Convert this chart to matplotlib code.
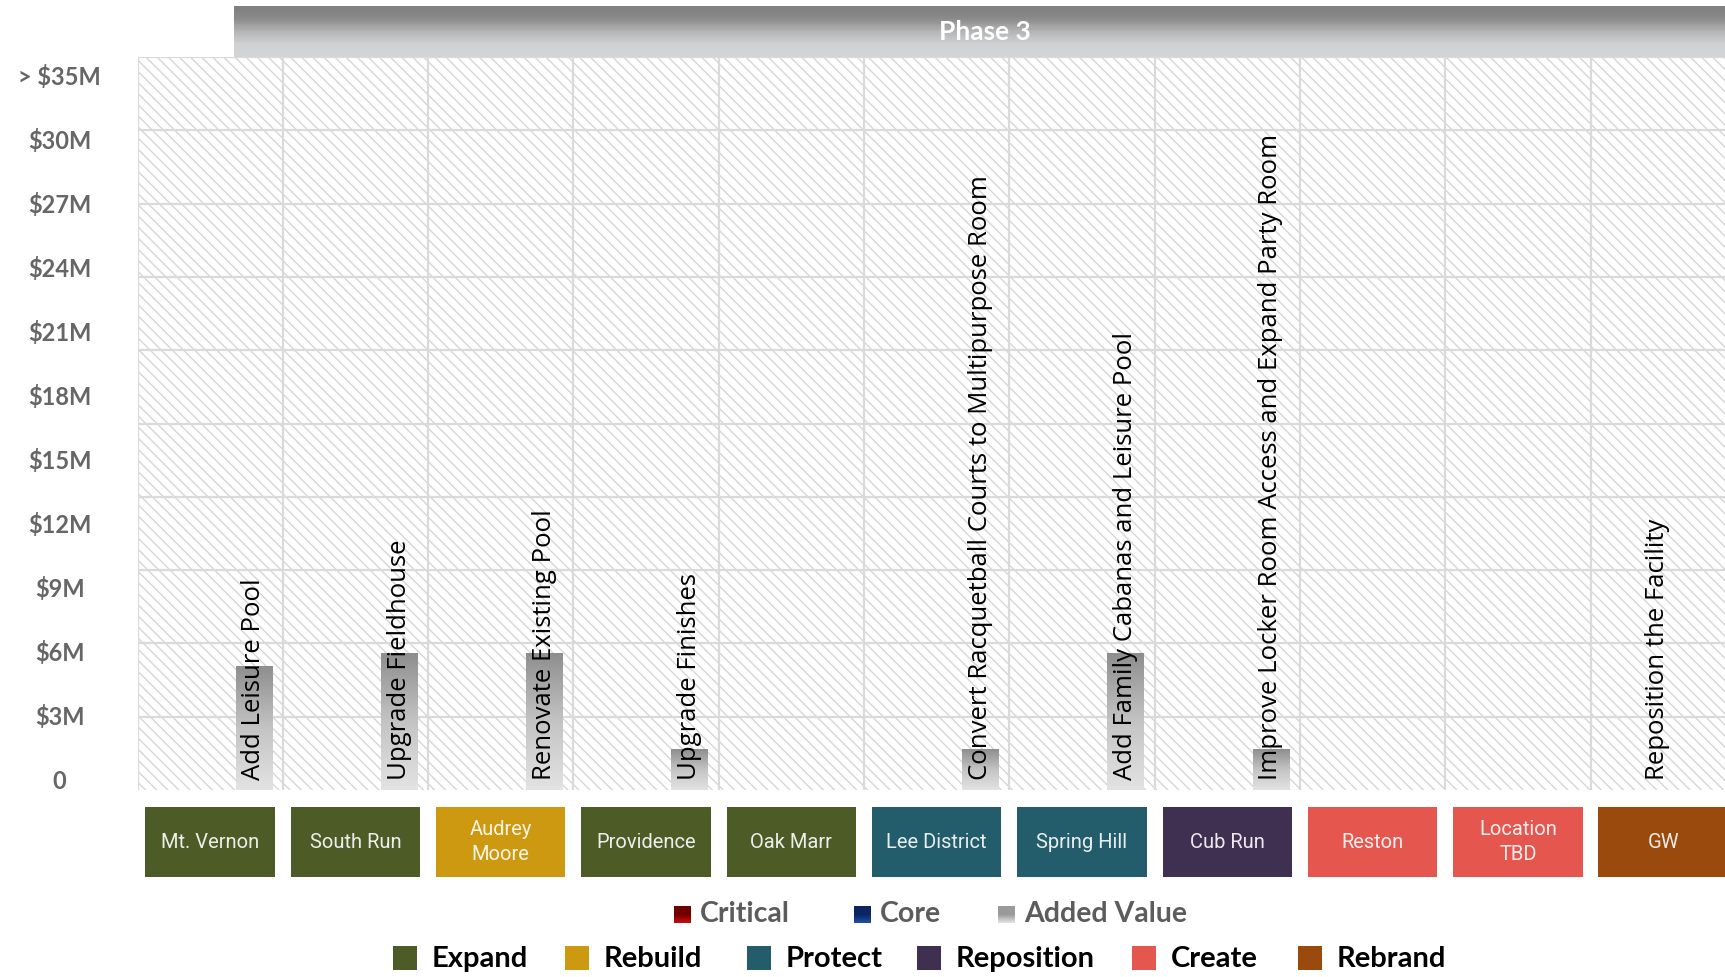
import numpy as np
import matplotlib
matplotlib.use("Agg")
import matplotlib.pyplot as plt
from matplotlib.patches import Rectangle
from matplotlib.transforms import blended_transform_factory
from matplotlib.colors import LinearSegmentedColormap

# ---------------- data ----------------
sites = ["Mt. Vernon", "South Run", "Audrey\nMoore", "Providence", "Oak Marr",
         "Lee District", "Spring Hill", "Cub Run", "Reston", "Location\nTBD", "GW"]
site_strategy = ["Expand", "Expand", "Rebuild", "Expand", "Expand", "Protect",
                 "Protect", "Reposition", "Create", "Create", "Rebrand"]
project_cost_m = [5.8, 6.4, 6.4, 1.9, 0.0, 1.9, 6.4, 1.9, 0.0, 0.0, 0.0]
projects = ["Add Leisure Pool", "Upgrade Fieldhouse", "Renovate Existing Pool",
            "Upgrade Finishes", "", "Convert Racquetball Courts to Multipurpose Room",
            "Add Family Cabanas and Leisure Pool",
            "Improve Locker Room Access and Expand Party Room", "", "",
            "Reposition the Facility"]
ytick_labels = ["0", "$3M", "$6M", "$9M", "$12M", "$15M", "$18M", "$21M",
                "$24M", "$27M", "$30M", "> $35M"]
phase_title = "Phase 3"
priority_labels = ["Critical", "Core", "Added Value"]
strategy_labels = ["Expand", "Rebuild", "Protect", "Reposition", "Create", "Rebrand"]

# ---------------- style ----------------
strategy_colors = {"Expand": "#4d5c27", "Rebuild": "#cc9910", "Protect": "#235c6b",
                   "Reposition": "#3f2f50", "Create": "#e5574e", "Rebrand": "#9a4a0c"}
# (top colour, bottom colour)
priority_grads = [("#6e0000", "#cc0c0c"), ("#0b2560", "#1d4fa8"), ("#9a9a9a", "#e6e6e6")]

W, H = 1725, 977
fig = plt.figure(figsize=(W / 100, H / 100), dpi=100)
fig.patch.set_facecolor("white")

ax_l, ax_r, ax_t, ax_b = 137.5, 1725, 57, 790
ax = fig.add_axes([ax_l / W, 1 - ax_b / H, (ax_r - ax_l) / W, (ax_b - ax_t) / H])
ax.set_zorder(2)

ncol_span = (ax_r - ax_l) / 145.3
ymax = 34.35
ax.set_xlim(0, ncol_span)
ax.set_ylim(0, ymax)

# hatched background
plt.rcParams["hatch.linewidth"] = 1.0
ax.add_patch(Rectangle((0, 0), 1, 1, transform=ax.transAxes, facecolor="white",
                       edgecolor="#d6d6d6", hatch="\\\\\\", lw=0, zorder=0))
for s in ax.spines.values():
    s.set_visible(False)

# gridlines
for gx in range(0, 12):
    ax.axvline(gx, color="#dadada", lw=1.6, zorder=1)
for gy in np.linspace(0, ymax, 11)[1:]:
    ax.axhline(gy, color="#dadada", lw=1.6, zorder=1)

# bars with gradient
idx = np.arange(len(sites))
bar_x = idx + 0.8
bars = ax.bar(bar_x, project_cost_m, width=0.25, color="none", zorder=2)
bar_cmap = LinearSegmentedColormap.from_list("bar", ["#e3e3e3", "#c4c4c4", "#8e8e8e"])
grad = np.linspace(0, 1, 256).reshape(-1, 1)
for b in bars:
    if b.get_height() <= 0:
        continue
    x0, w, h = b.get_x(), b.get_width(), b.get_height()
    im = ax.imshow(grad, cmap=bar_cmap, origin="lower", aspect="auto",
                   extent=[x0, x0 + w, 0, h], zorder=2)
    im.set_clip_path(b)
ax.set_xlim(0, ncol_span)
ax.set_ylim(0, ymax)

# project labels (rotated)
for i, (txt, v) in enumerate(zip(projects, project_cost_m)):
    if not txt:
        continue
    tx = i + 0.8 if v > 0 else i + 0.46
    ax.text(tx, 0.45, txt, rotation=90, ha="center", va="bottom", fontsize=18.5,
            family=["Open Sans", "DejaVu Sans"], color="black", zorder=4)

# y tick labels (slots)
ax.set_xticks([])
ax.set_yticks([0.5 + 3 * k for k in range(len(ytick_labels))])
ax.set_yticklabels(ytick_labels, fontsize=17, fontweight="bold", color="#666666",
                   family=["Lato", "DejaVu Sans"], ha="center")
ax.tick_params(axis="y", length=0, pad=56)

# site boxes under axis
trans = blended_transform_factory(ax.transData, fig.transFigure)
box_top, box_bot = 1 - 807 / H, 1 - 877 / H
for i, (name, strat) in enumerate(zip(sites, site_strategy)):
    ax.add_patch(Rectangle((i + 0.5 - 0.445, box_bot), 0.89, box_top - box_bot,
                           transform=trans, facecolor=strategy_colors[strat],
                           edgecolor="none", clip_on=False, zorder=3))
    ax.text(i + 0.5, (box_top + box_bot) / 2, name, transform=trans, ha="center",
            va="center", fontsize=14.5, color="white", alpha=0.9, linespacing=1.35,
            family=["Roboto", "DejaVu Sans"], fontstretch="condensed",
            clip_on=False, zorder=4)

# overlay axes in pixel coordinates (y grows downward) for header & legends
ov = fig.add_axes([0, 0, 1, 1])
ov.set_xlim(0, W)
ov.set_ylim(H, 0)
ov.axis("off")
ov.set_zorder(1)


def vgrad_rect(axis, x0, x1, y_top, y_bot, stops, n=60, z=1):
    """Vertical gradient drawn as thin bands; stops[0] at top, stops[-1] at bottom."""
    cm = LinearSegmentedColormap.from_list("g", stops)
    edges = np.linspace(y_top, y_bot, n + 1)
    for k in range(n):
        axis.add_patch(Rectangle((x0, edges[k]), x1 - x0, edges[k + 1] - edges[k] + 0.3,
                                 facecolor=cm((k + 0.5) / n), edgecolor="none", zorder=z))


vgrad_rect(ov, 234, W, 5.5, 57, ["#7e7e7e", "#8a8a8a", "#b4b4b4", "#d0d1d3", "#d3d4d6"])
ov.text(985, 32, phase_title, ha="center", va="center", fontsize=19,
        fontweight="bold", color="white", family=["Lato", "DejaVu Sans"], zorder=3)

# priority legend
pri_sq_x = [674, 854, 998]
pri_y = 914
for (lab, (c_top, c_bot), sx) in zip(priority_labels, priority_grads, pri_sq_x):
    vgrad_rect(ov, sx, sx + 17, pri_y - 8, pri_y + 9, [c_top, c_top, c_bot], n=17, z=2)
    ov.text(sx + 26, pri_y, lab, ha="left", va="center", fontsize=20.5,
            fontweight="bold", color="#5c5c5c", family=["Lato", "DejaVu Sans"])

# strategy legend
str_sq_x = [393, 565, 747, 917, 1132, 1298]
str_y = 958
for lab, sx in zip(strategy_labels, str_sq_x):
    ov.add_patch(Rectangle((sx, str_y - 12), 24, 24, facecolor=strategy_colors[lab],
                           edgecolor="none"))
    ov.text(sx + 39, str_y + 1, lab, ha="left", va="center", fontsize=21,
            fontweight="bold", color="black", family=["Lato", "DejaVu Sans"])

fig.savefig("out.png", dpi=100)
